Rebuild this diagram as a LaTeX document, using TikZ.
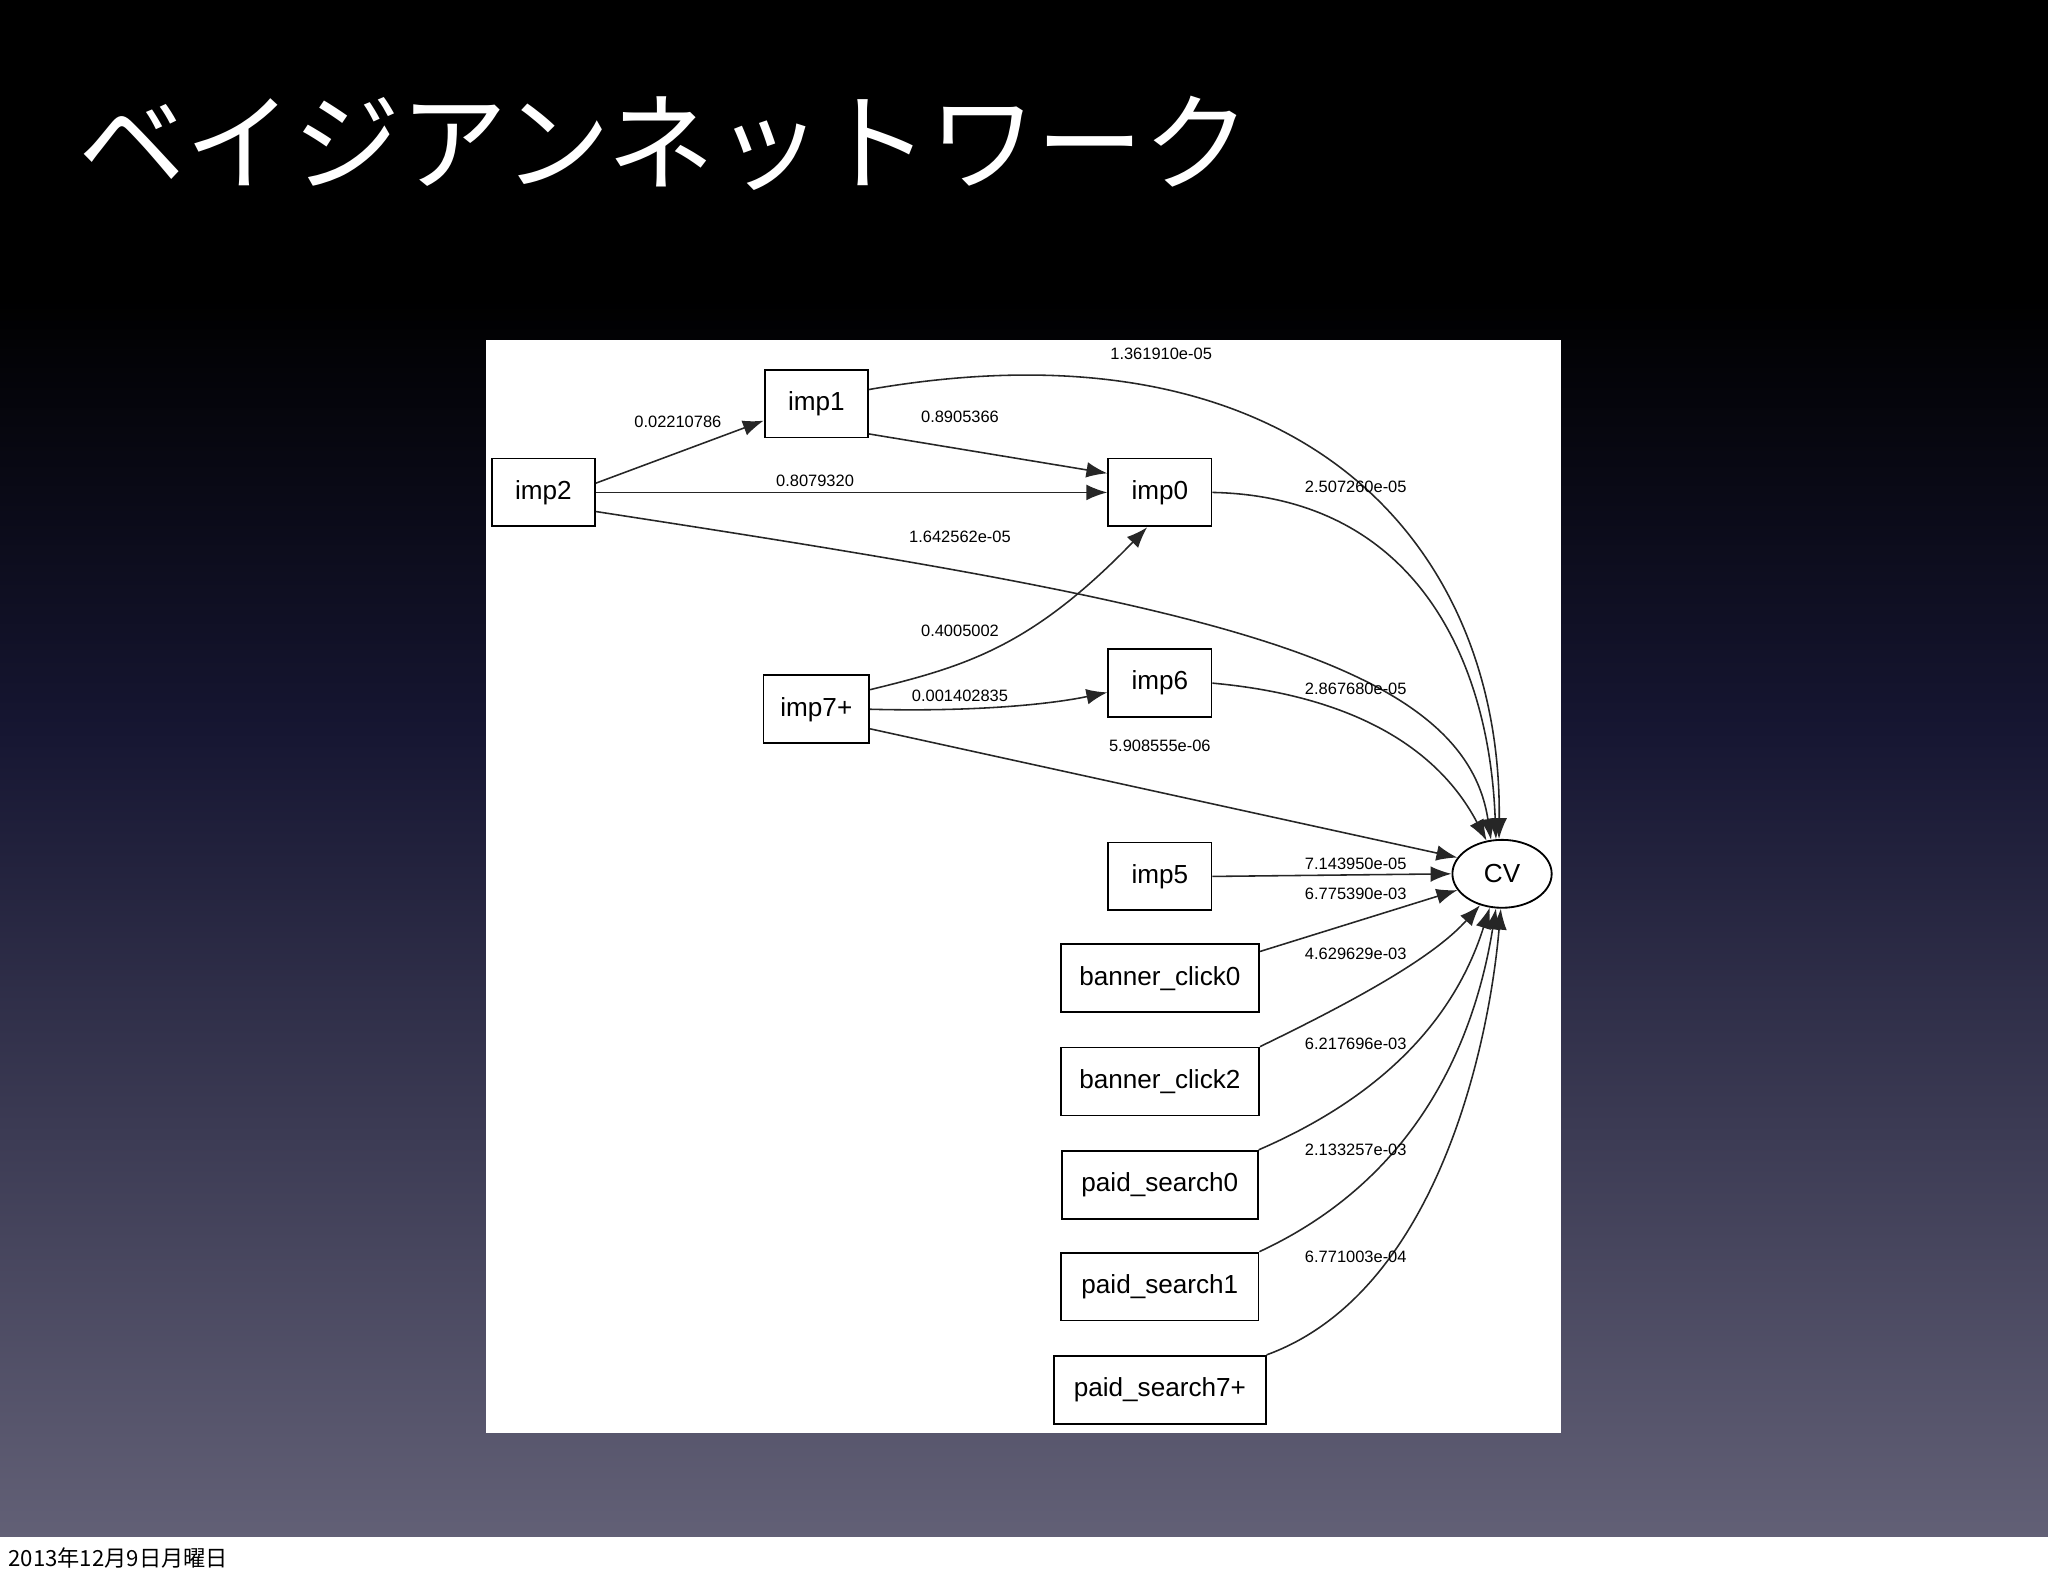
\documentclass[tikz,border=0pt]{standalone}
\usepackage{fontspec}
\setmainfont{Liberation Sans}
\newfontfamily\cjk{Noto Sans CJK JP}
\usetikzlibrary{arrows.meta,shapes.geometric}
\definecolor{mid}{RGB}{22,22,50}
\definecolor{bot}{RGB}{98,96,118}
\begin{document}
\begin{tikzpicture}[x=0.5pt,y=-0.5pt,
 box/.style={draw,line width=0.7pt,fill=white,minimum height=26pt,inner sep=0pt,font=\fontsize{10}{12}\selectfont},
 e/.style={draw=black!85,line width=0.6pt,-{Latex[length=8pt,width=6pt]}},
 lb/.style={font=\fontsize{6.3}{7}\selectfont,inner sep=0pt}]
\useasboundingbox (0,0) rectangle (1568,1207);
\fill[black] (0,0) rectangle (1568,230);
\shade[top color=black,bottom color=mid] (0,229) rectangle (1568,560);
\shade[top color=mid,bottom color=bot] (0,559) rectangle (1568,1177);
\fill[white] (0,1177) rectangle (1568,1207);
\node[anchor=base west,white,font=\cjk\fontsize{41}{43}\selectfont,inner sep=0pt] (title) at (60,140) {ベイジアンネットワーク};
\node[anchor=base west,font=\cjk\fontsize{8.5}{10}\selectfont,inner sep=0pt] (date) at (6,1199) {2013年12月9日月曜日};
\fill[white] (372,260) rectangle (1195,1097);
\node[box,minimum width=39.5pt] (imp1) at (625,309) {imp1};
\node[box,minimum width=39.5pt] (imp2) at (416,377) {imp2};
\node[box,minimum width=39.5pt] (imp0) at (888,377) {imp0};
\node[box,minimum width=40.5pt] (imp7) at (625,543) {imp7+};
\node[box,minimum width=39.5pt] (imp6) at (888,523) {imp6};
\node[box,minimum width=39.5pt] (imp5) at (888,671) {imp5};
\node[draw,line width=0.7pt,ellipse,minimum width=38pt,minimum height=26pt,inner sep=0pt,font=\fontsize{10}{12}\selectfont] (CV) at (1150,669) {CV};
\node[box,minimum width=76pt] (b0) at (888,749) {banner\_click0};
\node[box,minimum width=76pt] (b2) at (888,828) {banner\_click2};
\node[box,minimum width=75pt] (p0) at (888,907) {paid\_search0};
\node[box,minimum width=75.5pt] (p1) at (888,985) {paid\_search1};
\node[box,minimum width=81pt] (p7) at (888,1064) {paid\_search7+};
\draw[e] (imp2.10) -- (imp1.west |- 0,322);
\draw[e] (imp1.-30) -- (imp0.160);
\draw[e] (imp2.east) -- (imp0.west);
\draw[e] (imp1.15) .. controls (1000,240) and (1150,420) .. (CV.95);
\draw[e] (imp0.east) .. controls (1080,380) and (1140,500) .. (CV.100);
\draw[e] (imp2.-20) .. controls (900,460) and (1120,500) .. (CV.108);
\draw[e] (imp7.20) .. controls (740,510) and (790,495) .. (imp0.-110);
\draw[e] (imp7.east) .. controls (740,545) and (800,540) .. (imp6.-170);
\draw[e] (imp7.-20) -- (CV.160);
\draw[e] (imp6.east) .. controls (1060,535) and (1110,590) .. (CV.115);
\draw[e] (imp5.east) -- (CV.180);
\draw[e] (b0.15) -- (CV.200);
\draw[e] (b2.north east) .. controls (1050,760) and (1100,730) .. (CV.235);
\draw[e] (p0.north east) .. controls (1080,830) and (1120,760) .. (CV.250);
\draw[e] (p1.north east) .. controls (1090,900) and (1130,790) .. (CV.260);
\draw[e] (p7.north east) .. controls (1100,990) and (1140,800) .. (CV.268);
\node[lb] (l1) at (519,323) {0.02210786};
\node[lb] (l2) at (735,319) {0.8905366};
\node[lb] (l3) at (624,368) {0.8079320};
\node[lb] (l4) at (735,411) {1.642562e-05};
\node[lb] (l5) at (889,271) {1.361910e-05};
\node[lb] (l6) at (1038,373) {2.507260e-05};
\node[lb] (l7) at (735,483) {0.4005002};
\node[lb] (l8) at (735,533) {0.001402835};
\node[lb] (l9) at (888,571) {5.908555e-06};
\node[lb] (l10) at (1038,527) {2.867680e-05};
\node[lb] (l11) at (1038,661) {7.143950e-05};
\node[lb] (l12) at (1038,684) {6.775390e-03};
\node[lb] (l13) at (1038,730) {4.629629e-03};
\node[lb] (l14) at (1038,799) {6.217696e-03};
\node[lb] (l15) at (1038,880) {2.133257e-03};
\node[lb] (l16) at (1038,962) {6.771003e-04};
\end{tikzpicture}
\end{document}
